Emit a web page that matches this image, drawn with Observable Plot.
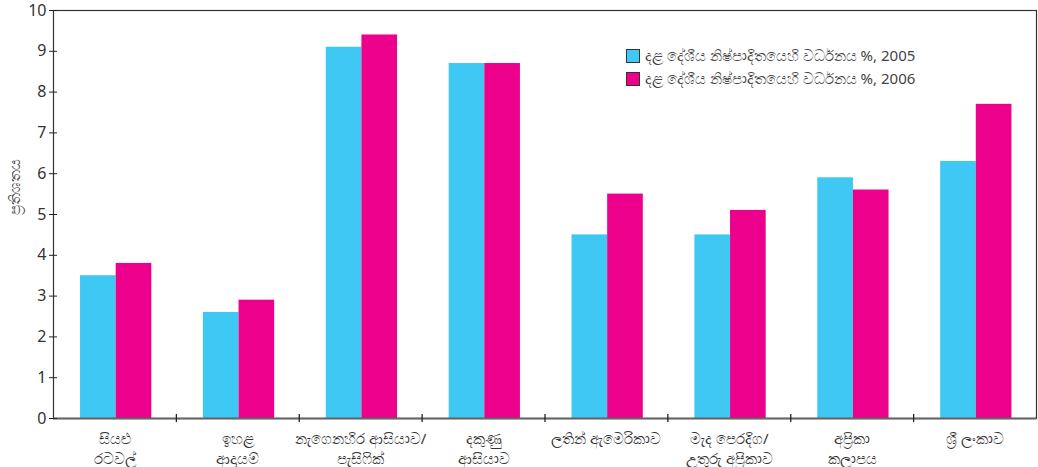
<!DOCTYPE html>
<html>
<head>
<meta charset="utf-8">
<script src="https://cdn.jsdelivr.net/npm/d3@7"></script>
<script src="https://cdn.jsdelivr.net/npm/@observablehq/plot@0.6"></script>
<style>
  html, body { margin: 0; padding: 0; background: #fff; }
  #wrap { position: relative; width: 1038px; height: 467px; font-family: "Noto Sans", "DejaVu Sans", sans-serif; }
  #legend { position: absolute; left: 626px; top: 44px; font-size: 15px; color: #444; line-height: 23px; }
  #legend .row { display: flex; align-items: center; white-space: nowrap; }
  #legend .sw { width: 12px; height: 12px; border: 1px solid #333; margin-right: 5px; }
</style>
</head>
<body>
<div id="wrap"><div id="legend"></div></div>
<script>
const categories = [
  "සියළු\nරටවල්",
  "ඉහළ\nආදායම්",
  "නැගෙනහිර ආසියාව/\nපැසිෆික්",
  "දකුණු\nආසියාව",
  "ලතින් ඇමෙරිකාව",
  "මැද පෙරදිග/\nඋතුරු අප්‍රිකාව",
  "අප්‍රිකා\nකලාපය",
  "ශ්‍රී ලංකාව"
];
const growth2005 = [3.5, 2.6, 9.1, 8.7, 4.5, 4.5, 5.9, 6.3];
const growth2006 = [3.8, 2.9, 9.4, 8.7, 5.5, 5.1, 5.6, 7.7];
const seriesNames = [
  "දළ දේශීය නිෂ්පාදිතයෙහි වර්ධනය %, 2005",
  "දළ දේශීය නිෂ්පාදිතයෙහි වර්ධනය %, 2006"
];
const colors = ["#40c8f4", "#ec008c"];
const yTicks = [0, 1, 2, 3, 4, 5, 6, 7, 8, 9, 10];
const yLabel = "ප්‍රතිශතය";

const W = 1038, H = 467, ML = 53, MR = 2, MT = 10, MB = 49;
const bw = (W - ML - MR) / categories.length;
const lead = 0.22 * bw, barW = 0.29 * bw;

const d05 = categories.map((c, i) => ({cat: c, v: growth2005[i]}));
const d06 = categories.map((c, i) => ({cat: c, v: growth2006[i]}));

const chart = Plot.plot({
  width: W, height: H,
  marginLeft: ML, marginRight: MR, marginTop: MT, marginBottom: MB,
  style: {fontFamily: "'Noto Sans', 'DejaVu Sans', sans-serif", color: "#333", background: "#fff"},
  x: {type: "band", domain: categories, padding: 0, round: false},
  y: {domain: [0, 10]},
  marks: [
    Plot.barY(d05, {x: "cat", y: "v", fill: colors[0], insetLeft: lead, insetRight: bw - lead - barW}),
    Plot.barY(d06, {x: "cat", y: "v", fill: colors[1], insetLeft: lead + barW, insetRight: bw - lead - 2 * barW}),
    Plot.frame({stroke: "#333", strokeWidth: 1.2}),
    Plot.ruleY([0], {stroke: "#666", strokeWidth: 2}),
    Plot.ruleX(categories.slice(1), {x: d => d, dx: -bw / 2, y1: -0.1, y2: 0.1, stroke: "#222", strokeWidth: 1.3}),
    Plot.axisY({ticks: yTicks, tickSize: 4, tickPadding: 3, fontSize: 16, label: null, stroke: "#222"}),
    Plot.axisY({ticks: yTicks, tickSize: -4, tickFormat: () => "", label: null, stroke: "#222"}),
    Plot.axisX({tickSize: 0, tickPadding: 12, fontSize: 15, lineHeight: 1.3, label: null, fill: "#333"}),
    Plot.text([yLabel], {frameAnchor: "left", dx: -38, rotate: -90, fontSize: 15, fill: "#444"})
  ]
});
document.getElementById("wrap").prepend(chart);

const leg = document.getElementById("legend");
seriesNames.forEach((n, i) => {
  const r = document.createElement("div");
  r.className = "row";
  r.innerHTML = `<span class="sw" style="background:${colors[i]}"></span><span>${n}</span>`;
  leg.appendChild(r);
});
</script>
</body>
</html>
